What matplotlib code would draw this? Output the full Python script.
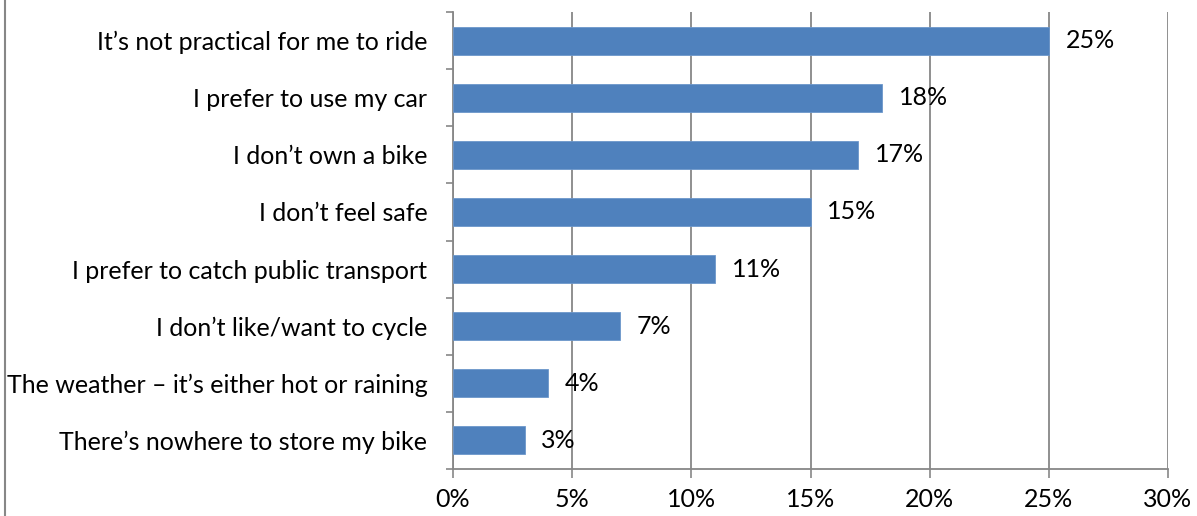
import matplotlib.pyplot as plt
from matplotlib.lines import Line2D

# survey reasons, top to bottom
reasons = [
    "It\u2019s not practical for me to ride",
    "I prefer to use my car",
    "I don\u2019t own a bike",
    "I don\u2019t feel safe",
    "I prefer to catch public transport",
    "I don\u2019t like/want to cycle",
    "The weather \u2013 it\u2019s either hot or raining",
    "There\u2019s nowhere to store my bike",
]
percents = [25, 18, 17, 15, 11, 7, 4, 3]
x_ticks = [0, 5, 10, 15, 20, 25, 30]

plt.rcParams['font.family'] = ['Lato', 'DejaVu Sans']
fs = 18

fig = plt.figure(figsize=(11.97, 5.16), dpi=100)
ax = fig.add_axes([453 / 1197, 1 - 469 / 516, (1168 - 453) / 1197, (469 - 12) / 516])

n = len(reasons)
pos = list(range(n))[::-1]
ax.barh(pos, percents, height=0.49, color='#4F81BD', edgecolor='#6C97CB', linewidth=0.6, zorder=3)

for p, v in zip(pos, percents):
    ax.text(v + 0.7, p, f"{v}%", va='center', ha='left', fontsize=fs, color='black', zorder=4)

ax.set_xlim(0, 30)
ax.set_ylim(-0.5, n - 0.5)
ax.set_xticks(x_ticks)
ax.set_xticklabels([f"{t}%" for t in x_ticks], fontsize=fs)

# category separators as major ticks, labels on minor ticks
ax.set_yticks([i - 0.5 for i in range(n + 1)])
ax.set_yticklabels([])
ax.set_yticks(pos, minor=True)
ax.set_yticklabels(reasons, minor=True, fontsize=fs)
ax.tick_params(axis='y', which='major', length=5, color='#878787', width=1.2)
ax.tick_params(axis='y', which='minor', length=0, pad=18.5)
ax.tick_params(axis='x', length=6.5, color='#878787', width=1.2, pad=7)

ax.grid(axis='x', color='#878787', linewidth=1.3, zorder=0)
for s in ['top', 'right']:
    ax.spines[s].set_visible(False)
for s in ['left', 'bottom']:
    ax.spines[s].set_color('#878787')
    ax.spines[s].set_linewidth(1.3)

# outer chart border on the left edge
fig.add_artist(Line2D([4.5 / 1197, 4.5 / 1197], [0, 1], transform=fig.transFigure,
                      color='#878787', linewidth=1.5))

fig.savefig('out.png', dpi=100)
